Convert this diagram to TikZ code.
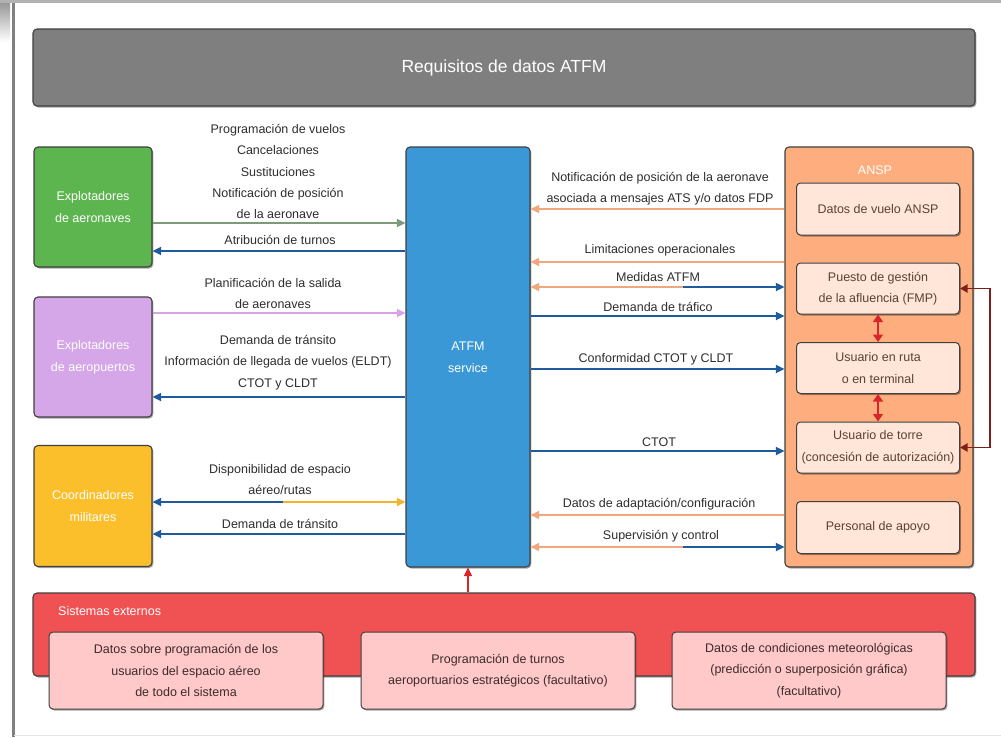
\documentclass[tikz,border=0pt]{standalone}
\usepackage{fontspec}
\setmainfont{Liberation Sans}
\usetikzlibrary{arrows.meta,shadows,calc}
\definecolor{titlegray}{HTML}{7F7F7F}
\definecolor{boxgreen}{HTML}{5CB54F}
\definecolor{boxpurple}{HTML}{D5A6E8}
\definecolor{boxyellow}{HTML}{FBBF2C}
\definecolor{boxblue}{HTML}{3B98D6}
\definecolor{boxorange}{HTML}{FEAE7E}
\definecolor{boxorangein}{HTML}{FFE6D8}
\definecolor{boxred}{HTML}{F05152}
\definecolor{boxpink}{HTML}{FFC9C9}
\definecolor{lineblue}{HTML}{1F5C9E}
\definecolor{lineorange}{HTML}{F2A67C}
\definecolor{linegreen}{HTML}{7D9B7B}
\definecolor{linepurple}{HTML}{D7A3E5}
\definecolor{lineyellow}{HTML}{F3B32A}
\definecolor{linered}{HTML}{D9262B}
\definecolor{linedarkred}{HTML}{7E1F1A}
\definecolor{txtgray}{HTML}{2E2E2E}
\definecolor{txtbrown}{HTML}{5C4033}
\definecolor{txtpink}{HTML}{3E2A2A}
\begin{document}
\begin{tikzpicture}[x=1pt,y=-1pt,
  box/.style={draw=black!75, line width=1.1pt, rounded corners=4pt,
    drop shadow={shadow xshift=1.3pt,shadow yshift=-1.5pt,fill=black,opacity=0.35},
    align=center, inner sep=2pt, font=\fontsize{12.5}{22}\selectfont},
  inbox/.style={box, line width=1pt, font=\fontsize{12.5}{21.5}\selectfont},
  lbl/.style={align=center, inner sep=0pt, text=txtgray, font=\fontsize{12.5}{21.3}\selectfont},
  arr/.style={line width=1.8pt, -{Triangle[length=8.5pt,width=8pt]}},
  darr/.style={line width=1.4pt, {Triangle[length=7.5pt,width=10pt]}-{Triangle[length=7.5pt,width=10pt]}},
]
\useasboundingbox (0,0) rectangle (1001,737);
% frame
\fill[white] (0,0) rectangle (1001,737);
\fill[black!30] (0,0) rectangle (1001,3);
\shade[top color=black!40, bottom color=white] (0,3) rectangle (10,42);
\draw[black!50, line width=2.5pt] (13.5,3) -- (13.5,737);
\draw[black!10, line width=1pt] (14,735.5) -- (1001,735.5);

% title
\node[box, fill=titlegray, text=white, minimum width=942pt, minimum height=77pt,
  font=\fontsize{17.5}{20}\selectfont] (title) at (504,67.5) {Requisitos de datos ATFM};

% left boxes
\node[box, fill=boxgreen, text=white, minimum width=118pt, minimum height=120pt] (aer) at (93,207) {Explotadores\\de aeronaves};
\node[box, fill=boxpurple, text=white, minimum width=118pt, minimum height=120pt] (apt) at (93,357) {Explotadores\\de aeropuertos};
\node[box, fill=boxyellow, text=white, minimum width=118pt, minimum height=121pt] (mil) at (93,506) {Coordinadores\\militares};

% ATFM
\node[box, fill=boxblue, text=white, minimum width=124pt, minimum height=420pt] (atfm) at (468,357) {ATFM\\service};

% ANSP
\node[box, fill=boxorange, minimum width=188pt, minimum height=420pt] (ansp) at (879,357) {};
\node[text=white, font=\fontsize{12.5}{15}\selectfont, inner sep=0pt] (anspt) at (875,170) {ANSP};
\node[inbox, fill=boxorangein, text=txtbrown, minimum width=163pt, minimum height=52pt] (dv) at (878,209) {Datos de vuelo ANSP};
\node[inbox, fill=boxorangein, text=txtbrown, minimum width=163pt, minimum height=51pt] (fmp) at (878,288.5) {Puesto de gestión\\de la afluencia (FMP)};
\node[inbox, fill=boxorangein, text=txtbrown, minimum width=163pt, minimum height=51pt] (ruta) at (878,368) {Usuario en ruta\\o en terminal};
\node[inbox, fill=boxorangein, text=txtbrown, minimum width=163pt, minimum height=51pt] (torre) at (878,447.5) {Usuario de torre\\(concesión de autorización)};
\node[inbox, fill=boxorangein, text=txtbrown, minimum width=163pt, minimum height=52pt] (apoyo) at (878,527.5) {Personal de apoyo};

% Sistemas externos
\node[box, fill=boxred, minimum width=942pt, minimum height=83pt] (sist) at (504,634.5) {};
\node[text=white, anchor=west, inner sep=0pt, font=\fontsize{12.5}{15}\selectfont] (sistt) at (58,611) {Sistemas externos};
\node[inbox, fill=boxpink, text=txtpink, minimum width=274pt, minimum height=77pt] (e1) at (186,670.5) {Datos sobre programación de los\\usuarios del espacio aéreo\\de todo el sistema};
\node[inbox, fill=boxpink, text=txtpink, minimum width=274pt, minimum height=77pt] (e2) at (498,670.5) {Programación de turnos\\aeroportuarios estratégicos (facultativo)};
\node[inbox, fill=boxpink, text=txtpink, minimum width=274pt, minimum height=77pt] (e3) at (809,670.5) {Datos de condiciones meteorológicas\\(predicción o superposición gráfica)\\(facultativo)};

% left connectors
\draw[arr, linegreen] (aer.east |- 0,223) -- (atfm.west |- 0,223);
\draw[arr, lineblue] (atfm.west |- 0,251) -- (aer.east |- 0,251);
\draw[arr, linepurple] (apt.east |- 0,313) -- (atfm.west |- 0,313);
\draw[arr, lineblue] (atfm.west |- 0,397) -- (apt.east |- 0,397);
\coordinate (s1) at (283,502);
\draw[arr, lineblue] (s1) -- (mil.east |- s1);
\draw[arr, lineyellow] (s1) -- (atfm.west |- s1);
\draw[arr, lineblue] (atfm.west |- 0,534) -- (mil.east |- 0,534);

% left labels
\node[lbl] (l1) at (278,171.5) {Programación de vuelos\\Cancelaciones\\Sustituciones\\Notificación de posición\\de la aeronave};
\node[lbl] (l2) at (280,240) {Atribución de turnos};
\node[lbl] (l3) at (273,293.5) {Planificación de la salida\\de aeronaves};
\node[lbl] (l4) at (278,362.5) {Demanda de tránsito\\Información de llegada de vuelos (ELDT)\\CTOT y CLDT};
\node[lbl] (l5) at (280,479.5) {Disponibilidad de espacio\\aéreo/rutas};
\node[lbl] (l6) at (280,524) {Demanda de tránsito};

% right connectors
\draw[arr, lineorange] (ansp.west |- 0,209) -- (atfm.east |- 0,209);
\draw[arr, lineorange] (ansp.west |- 0,262) -- (atfm.east |- 0,262);
\coordinate (s2) at (683,287);
\draw[arr, lineorange] (s2) -- (atfm.east |- s2);
\draw[arr, lineblue] (s2) -- (ansp.west |- s2);
\draw[arr, lineblue] (atfm.east |- 0,316) -- (ansp.west |- 0,316);
\draw[arr, lineblue] (atfm.east |- 0,369) -- (ansp.west |- 0,369);
\draw[arr, lineblue] (atfm.east |- 0,451) -- (ansp.west |- 0,451);
\draw[arr, lineorange] (ansp.west |- 0,515) -- (atfm.east |- 0,515);
\coordinate (s3) at (683,547);
\draw[arr, lineorange] (s3) -- (atfm.east |- s3);
\draw[arr, lineblue] (s3) -- (ansp.west |- s3);

% right labels
\node[lbl] (r1) at (660,189) {Notificación de posición de la aeronave\\asociada a mensajes ATS y/o datos FDP};
\node[lbl] (r2) at (660,250) {Limitaciones operacionales};
\node[lbl] (r3) at (658,277) {Medidas ATFM};
\node[lbl] (r4) at (658,307) {Demanda de tráfico};
\node[lbl] (r5) at (656,359) {Conformidad CTOT y CLDT};
\node[lbl] (r6) at (659,442) {CTOT};
\node[lbl] (r7) at (659,504) {Datos de adaptación/configuración};
\node[lbl] (r8) at (661,536) {Supervisión y control};

% internal ANSP arrows
\draw[darr, linered] (fmp.south) -- (ruta.north);
\draw[darr, linered] (ruta.south) -- (torre.north);
\draw[line width=1.8pt, linedarkred, {Triangle[length=7.5pt,width=8pt]}-{Triangle[length=7.5pt,width=8pt]}] (fmp.east) -- ++(30,0) |- (torre.east);

% bottom arrow
\draw[arr, linered, line width=1.6pt] (sist.north -| atfm.south) -- (atfm.south);
\end{tikzpicture}
\end{document}
